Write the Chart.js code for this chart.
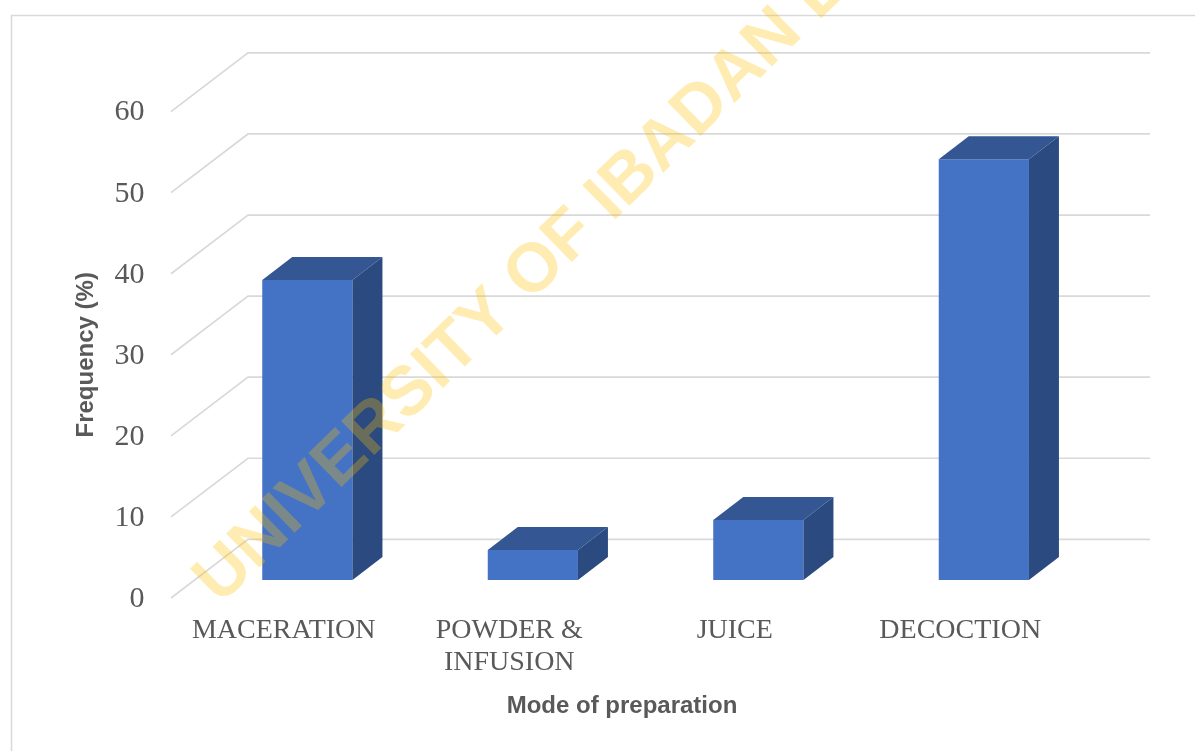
<!DOCTYPE html>
<html>
<head>
<meta charset="utf-8">
<title>Mode of preparation</title>
<script src="https://cdn.jsdelivr.net/npm/chart.js@4.4.1/dist/chart.umd.min.js"></script>
<style>
  html, body { margin: 0; padding: 0; background: #fff; }
  #wrap { width: 1195px; height: 751px; position: relative; }
</style>
</head>
<body>
<div id="wrap"><canvas id="prepChart"></canvas></div>
<script>
// data
const modes = ["MACERATION", ["POWDER &", "INFUSION"], "JUICE", "DECOCTION"];
const frequency = [37.0, 3.7, 7.4, 51.9];
const yTicks = [0, 10, 20, 30, 40, 50, 60];
const yTitle = "Frequency (%)";
const xTitle = "Mode of preparation";
const watermark = "UNIVERSITY OF IBADAN LIBRARY";

// fake 3d: bars sit on a middle plane, labels on the front one, grid on the back one
const DEPTH = { dx: 30, dy: -23 };
const FRONT = { dx: -23.6, dy: 18 };
const BACK = { dx: 53.4, dy: -40.7 };
const textGrey = "#595959";

const depthPlugin = {
  id: "depth",
  beforeDraw(chart) {
    const ctx = chart.ctx;
    ctx.save();
    ctx.strokeStyle = "#d9d9d9";
    ctx.lineWidth = 1.5;
    ctx.strokeRect(11.5, 15.5, 1300, 900);
    ctx.restore();
  },
  beforeDatasetsDraw(chart) {
    const { ctx, chartArea: a, scales: { y } } = chart;
    ctx.save();
    ctx.strokeStyle = "#d9d9d9";
    ctx.lineWidth = 1.7;
    y.ticks.forEach(t => {
      const py = y.getPixelForValue(t.value);
      ctx.beginPath();
      ctx.moveTo(a.left + FRONT.dx, py + FRONT.dy);
      ctx.lineTo(a.left + BACK.dx, py + BACK.dy);
      ctx.lineTo(a.right + BACK.dx, py + BACK.dy);
      ctx.stroke();
    });
    ctx.restore();
  },
  afterDatasetsDraw(chart) {
    const ctx = chart.ctx;
    chart.getDatasetMeta(0).data.forEach(bar => {
      const { x, y, base, width } = bar.getProps(["x", "y", "base", "width"], true);
      const l = x - width / 2, r = x + width / 2;
      ctx.save();
      // top face
      ctx.fillStyle = "#345793";
      ctx.beginPath();
      ctx.moveTo(l, y);
      ctx.lineTo(l + DEPTH.dx, y + DEPTH.dy);
      ctx.lineTo(r + DEPTH.dx, y + DEPTH.dy);
      ctx.lineTo(r, y);
      ctx.closePath();
      ctx.fill();
      // side face
      ctx.fillStyle = "#2a4a80";
      ctx.beginPath();
      ctx.moveTo(r, y);
      ctx.lineTo(r + DEPTH.dx, y + DEPTH.dy);
      ctx.lineTo(r + DEPTH.dx, base + DEPTH.dy);
      ctx.lineTo(r, base);
      ctx.closePath();
      ctx.fill();
      ctx.restore();
    });
  },
  afterDraw(chart) {
    const { ctx, chartArea: a, scales: { y } } = chart;
    ctx.save();
    ctx.fillStyle = textGrey;
    ctx.font = "bold 24px 'Liberation Sans', Arial, sans-serif";
    ctx.textAlign = "center";
    ctx.textBaseline = "alphabetic";
    ctx.fillText(xTitle, (a.left + a.right) / 2 + FRONT.dx, a.bottom + 133);

    const midY = (y.getPixelForValue(yTicks[0]) + y.getPixelForValue(yTicks[yTicks.length - 1])) / 2 + FRONT.dy;
    ctx.translate(92.7, midY);
    ctx.rotate(-Math.PI / 2);
    ctx.fillText(yTitle, 0, 0);
    ctx.restore();

    // watermark over everything
    ctx.save();
    ctx.globalAlpha = 0.3;
    ctx.fillStyle = "#ffc000";
    ctx.font = "bold 69px 'Liberation Sans', Arial, sans-serif";
    ctx.textAlign = "left";
    ctx.textBaseline = "middle";
    ctx.translate(207, 592);
    ctx.rotate(-44.35 * Math.PI / 180);
    ctx.fillText(watermark, 0, 0);
    ctx.restore();
  }
};

new Chart(document.getElementById("prepChart"), {
  type: "bar",
  data: {
    labels: modes,
    datasets: [{
      label: "Frequency",
      data: frequency,
      backgroundColor: "#4472c4",
      borderWidth: 0,
      categoryPercentage: 1,
      barPercentage: 0.4
    }]
  },
  options: {
    responsive: true,
    maintainAspectRatio: false,
    animation: false,
    layout: { padding: { top: 93.6, right: 98.4, bottom: 0, left: 0 } },
    plugins: { legend: { display: false }, tooltip: { enabled: false } },
    scales: {
      x: {
        grid: { display: false, drawTicks: false },
        border: { display: false },
        ticks: {
          color: textGrey,
          font: { family: "'Liberation Serif', 'Times New Roman', serif", size: 28, lineHeight: 1.125 },
          padding: 35,
          labelOffset: FRONT.dx,
          maxRotation: 0,
          autoSkip: false
        },
        afterFit: s => { s.height = 171; }
      },
      y: {
        min: 0,
        max: 60,
        grid: { display: false, drawTicks: false },
        border: { display: false },
        afterBuildTicks: s => { s.ticks = yTicks.map(v => ({ value: v })); },
        ticks: {
          color: textGrey,
          font: { family: "'Liberation Serif', 'Times New Roman', serif", size: 30 },
          padding: 50,
          labelOffset: 19
        },
        afterFit: s => { s.width = 194.6; }
      }
    }
  },
  plugins: [depthPlugin]
});
</script>
</body>
</html>
